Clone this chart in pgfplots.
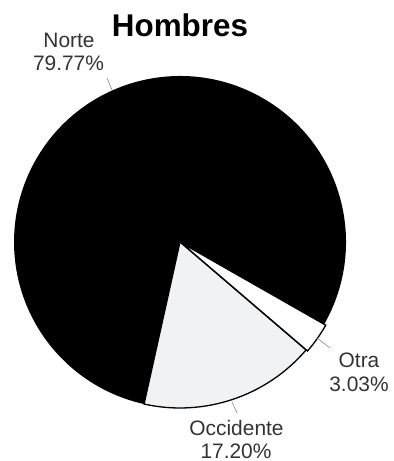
\documentclass[border=0pt]{standalone}
\usepackage{pgfplots}
\pgfplotsset{compat=1.18}
\usepackage{pgfplotstable}
\usepackage{fontspec}
\setmainfont{Liberation Sans}

\definecolor{txtgray}{HTML}{333333}
\definecolor{occfill}{HTML}{F1F2F4}
\definecolor{leader}{HTML}{888888}

\pgfplotstableread{
region pct
Occidente 17.20
Otra 3.03
Norte 79.77
}\piedata

\begin{document}
\begin{tikzpicture}
% slice angles from the table, counterclockwise from the start angle
\pgfplotstablegetelem{0}{pct}\of\piedata \let\pOcc\pgfplotsretval
\pgfplotstablegetelem{1}{pct}\of\piedata \let\pOtr\pgfplotsretval
\pgfplotstablegetelem{2}{pct}\of\piedata \let\pNor\pgfplotsretval
\pgfmathsetmacro{\aS}{-102.5}
\pgfmathsetmacro{\aA}{\aS+3.6*\pOcc}
\pgfmathsetmacro{\aB}{\aA+3.6*\pOtr}
\pgfmathsetmacro{\aC}{\aB+3.6*\pNor}
\begin{axis}[
    width=394bp, height=461bp,
    scale only axis,
    hide axis,
    clip=false,
    xmin=0, xmax=394,
    ymin=0, ymax=461,
]
\path (axis cs:0,0) rectangle (axis cs:394,461);
% Norte
\fill[black] (axis cs:180,219) -- ++(\aB:166bp) arc[start angle=\aB, end angle=\aC, radius=166bp] -- cycle;
% Occidente
\filldraw[fill=occfill, draw=black, line width=1.3bp] (axis cs:180,219) -- ++(\aS:166bp) arc[start angle=\aS, end angle=\aA, radius=166bp] -- cycle;
% Otra
\filldraw[fill=white, draw=black, line width=1.3bp] (axis cs:181.5,218) -- ++(\aA:166bp) arc[start angle=\aA, end angle=\aB, radius=166bp] -- cycle;

% title
\node[anchor=base, inner sep=0, font=\fontsize{31.5}{34}\selectfont\bfseries, text=black] at (axis cs:180,424) {Hombres};

% labels
\draw[leader, line width=0.6bp] (axis cs:107,383) -- (axis cs:112,371);
\draw[leader, line width=0.6bp] (axis cs:232,59) -- (axis cs:237,48);
\draw[leader, line width=0.6bp] (axis cs:317,123) -- (axis cs:330,113);
\begin{scope}[every node/.style={anchor=base, inner sep=0, text=txtgray, font=\fontsize{21}{23}\selectfont}]
\node at (axis cs:69,413) {Norte};
\node at (axis cs:68.5,390) {79.77\%};
\node at (axis cs:236.5,26) {Occidente};
\node at (axis cs:236,3) {17.20\%};
\node at (axis cs:359,93) {Otra};
\node at (axis cs:359,69) {3.03\%};
\end{scope}
\end{axis}
\end{tikzpicture}
\end{document}
